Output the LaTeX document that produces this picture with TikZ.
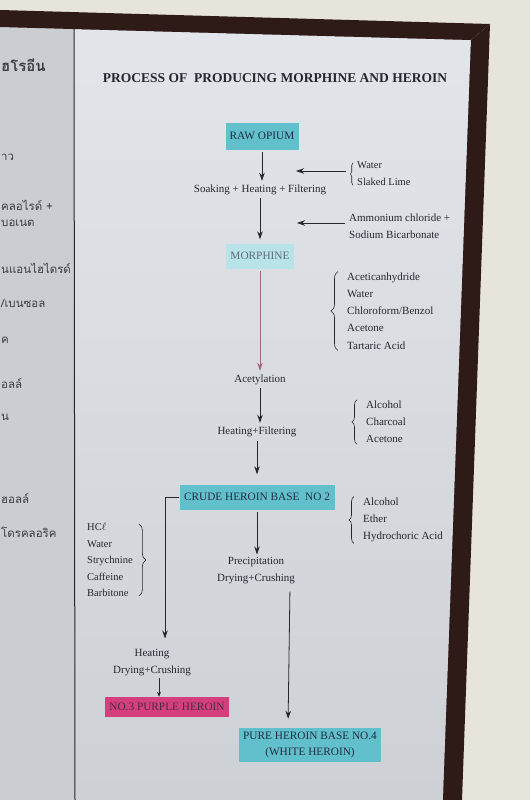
\documentclass[tikz,border=0pt]{standalone}
\usepackage{fontspec}
\setmainfont{Liberation Serif}
\newfontfamily\thaifont[Script=Thai]{Loma}
\usetikzlibrary{arrows.meta,decorations.pathreplacing}

\definecolor{wall}{HTML}{E7E4DC}
\definecolor{frame}{HTML}{2E1B18}
\definecolor{paper}{HTML}{E2E5EA}
\definecolor{paperlow}{HTML}{CDD1D6}
\definecolor{sidepaper}{HTML}{CACED3}
\definecolor{ink}{HTML}{26262E}
\definecolor{boxink}{HTML}{1E2C40}
\definecolor{cyanbox}{HTML}{62C0CD}
\definecolor{purplebox}{HTML}{D5407C}
\definecolor{pinkline}{HTML}{9C6B7A}

\begin{document}
\begin{tikzpicture}[x=1pt, y=-1pt,
txt/.style={font=\fontsize{11}{17}\selectfont, text=ink, inner sep=1pt, align=center},
reagent/.style={font=\fontsize{11}{17.2}\selectfont, text=ink, inner sep=1pt, align=left, anchor=west},
stage/.style={font=\fontsize{11.3}{16}\selectfont, text=boxink, fill=cyanbox, inner xsep=4pt, align=center},
thai/.style={font=\thaifont\fontsize{11.5}{14}\selectfont, text=ink!90, anchor=west, inner sep=0pt},
flow/.style={draw=ink, line width=0.8pt, -{Stealth[length=8pt, width=5.5pt]}},
brace/.style={draw=ink, line width=0.6pt, decorate, decoration={brace, amplitude=#1}},
brace/.default=5pt,
]
\useasboundingbox (0,0) rectangle (530,800);

% wall, frame and paper
\fill[wall] (0,0) rectangle (530,800);
\fill[top color=paper, bottom color=paperlow] (0,27) -- (471,40) -- (443,800) -- (0,800) -- cycle;
\fill[sidepaper] (0,27) -- (74,29) -- (75,800) -- (0,800) -- cycle;
\draw[ink, line width=1pt] (74,29) -- (75,800);
\fill[frame] (0,10) -- (490,24) -- (471,40) -- (0,27) -- cycle;
\fill[frame] (490,24) -- (462,800) -- (443,800) -- (471,40) -- cycle;

% thai panel, only the part that shows
\node[thai, font=\thaifont\bfseries\fontsize{15}{18}\selectfont] (th0) at (1,65) {ฮโรอีน};
\node[thai] (th1) at (1,157) {าว};
\node[thai] (th2) at (1,205) {คลอไรด์ +};
\node[thai] (th3) at (1,223) {บอเนต};
\node[thai] (th4) at (1,268) {นแอนไฮไดรด์};
\node[thai] (th5) at (1,303) {/เบนซอล};
\node[thai] (th6) at (1,340) {ค};
\node[thai] (th7) at (1,383) {อลล์};
\node[thai] (th8) at (1,417) {น};
\node[thai] (th9) at (1,498) {ฮอลล์};
\node[thai] (th10) at (1,532) {โดรคลอริค};

% title
\node[font=\fontsize{13.5}{16}\bfseries\selectfont, text=ink] (title) at (275,78)
  {PROCESS OF\ \ PRODUCING MORPHINE AND HEROIN};

% main line
\node[stage, minimum width=73pt, minimum height=27pt] (raw) at (262,136) {RAW OPIUM};
\node[txt] (soak) at (260,190) {Soaking + Heating + Filtering};
\node[stage, fill=cyanbox!45, text=boxink!70, minimum width=64pt, minimum height=25pt] (morph) at (260,256) {MORPHINE};
\node[txt] (acet) at (260,380) {Acetylation};
\node[txt] (heatfilt) at (257,432) {Heating+Filtering};
\node[stage, minimum width=155pt, minimum height=25pt] (crude) at (257,497) {CRUDE\ HEROIN\ BASE\ \ NO 2};
\node[txt] (precip) at (256,571) {Precipitation\\Drying+Crushing};
\node[stage, minimum width=139pt, minimum height=34pt] (pure) at (310,745) {PURE\ HEROIN\ BASE NO.4\\(WHITE HEROIN)};
\node[txt] (heatdry) at (152,663) {Heating\\Drying+Crushing};
\node[stage, fill=purplebox, text=ink!80!purplebox, minimum width=122pt, minimum height=20pt] (purple) at (167,707) {NO.3\ PURPLE\ HEROIN};

% reagents
\node[reagent, font=\fontsize{10.5}{17}\selectfont] (r1) at (356,174) {Water\\Slaked Lime};
\node[reagent] (r2) at (348,226) {Ammonium chloride +\\Sodium Bicarbonate};
\node[reagent] (r3) at (346,311) {Aceticanhydride\\Water\\Chloroform/Benzol\\Acetone\\Tartaric Acid};
\node[reagent] (r4) at (365,422) {Alcohol\\Charcoal\\Acetone};
\node[reagent] (r5) at (362,520) {Alcohol\\Ether\\Hydrochoric Acid};
\node[reagent, font=\fontsize{10.5}{16.5}\selectfont] (r6) at (86,560) {HC$\ell$\\Water\\Strychnine\\Caffeine\\Barbitone};
\coordinate (in1) at (296,171);
\coordinate (in2) at (297,223);

\draw[brace=2.5pt] ([xshift=-3pt, yshift=2pt]r1.south west) -- ([xshift=-3pt, yshift=-2pt]r1.north west);
\draw[brace=7pt] ([xshift=-8pt]r3.south west) -- ([xshift=-8pt]r3.north west);
\draw[brace=5pt] ([xshift=-8pt]r4.south west) -- ([xshift=-8pt]r4.north west);
\draw[brace=5pt] ([xshift=-8pt]r5.south west) -- ([xshift=-8pt]r5.north west);
\draw[brace=7pt] ([xshift=5pt, yshift=-2pt]r6.north east) -- ([xshift=5pt, yshift=2pt]r6.south east);

% arrows
\draw[flow, shorten <=2pt, shorten >=3pt] (raw.south) -- (raw.south |- soak.north);
\draw[flow, shorten <=2pt, shorten >=4pt] (soak.south) -- (soak.south |- morph.north);
\draw[flow, draw=pinkline, shorten <=2pt, shorten >=3pt] (morph.south) -- (morph.south |- acet.north);
\draw[flow, shorten <=2pt, shorten >=3pt] (acet.south) -- (acet.south |- heatfilt.north);
\draw[flow, shorten <=3pt, shorten >=10pt] (heatfilt.south) -- (heatfilt.south |- crude.north);
\draw[flow, shorten <=2pt, shorten >=2pt] (crude.south) -- (crude.south |- precip.north);
\draw[flow, shorten <=6pt, shorten >=9pt] ([xshift=34pt]precip.south) -- ([xshift=-22pt]pure.north);
\draw[flow] (crude.west) -| ([xshift=13pt, yshift=10pt]heatdry.north);
\draw[flow, line width=0.6pt, -{Stealth[length=5pt, width=4pt]}] ([xshift=7pt]heatdry.south) -- ([xshift=7pt]heatdry.south |- purple.north);
\draw[flow] ([xshift=-10pt]r1.west |- in1) -- (in1);
\draw[flow] ([xshift=-3pt]r2.west |- in2) -- (in2);
\end{tikzpicture}
\end{document}
